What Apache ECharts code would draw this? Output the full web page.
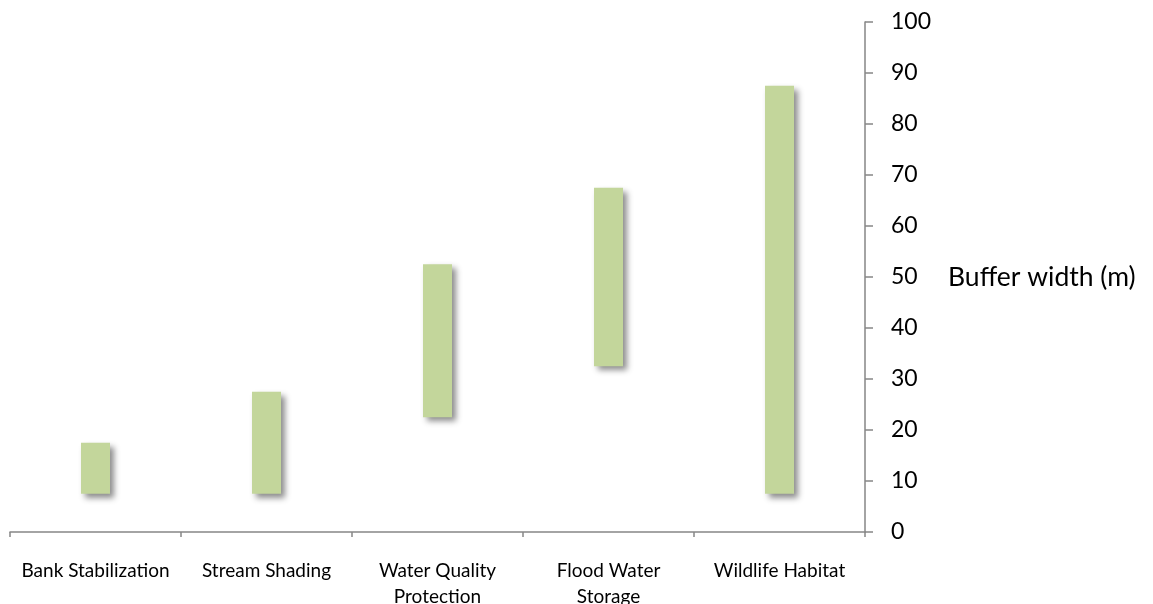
<!DOCTYPE html>
<html>
<head>
<meta charset="utf-8">
<script src="https://cdn.jsdelivr.net/npm/echarts@6/dist/echarts.min.js"></script>
<style>
  html, body { margin: 0; padding: 0; background: #ffffff; }
  #chart { width: 1153px; height: 604px; }
</style>
</head>
<body>
<div id="chart"></div>
<script>
// Riparian buffer functions and the range of buffer widths each one needs
const categories = ['Bank Stabilization', 'Stream Shading', 'Water Quality\nProtection', 'Flood Water\nStorage', 'Wildlife Habitat'];
const lowValues  = [7.5, 7.5, 22.5, 32.5, 7.5];
const highValues = [17.5, 27.5, 52.5, 67.5, 87.5];
const yTicks = { min: 0, max: 100, interval: 10 };

// floating bars: an invisible base up to the low value, then the visible span
const spanValues = highValues.map((h, i) => h - lowValues[i]);

const axisGray = '#868686';
const chart = echarts.init(document.getElementById('chart'));
chart.setOption({
  animation: false,
  backgroundColor: '#ffffff',
  grid: { left: 10, right: 288, top: 22, bottom: 72, containLabel: false, outerBoundsMode: 'none' },
  xAxis: {
    type: 'category',
    data: categories,
    boundaryGap: true,
    axisLine: { show: true, lineStyle: { color: axisGray, width: 1.5 } },
    axisTick: { show: true, length: 5, lineStyle: { color: axisGray, width: 1.5 } },
    axisLabel: {
      margin: 26,
      color: '#000000',
      fontFamily: 'Lato',
      fontSize: 19,
      lineHeight: 26,
      interval: 0
    },
    splitLine: { show: false }
  },
  yAxis: {
    type: 'value',
    position: 'right',
    min: yTicks.min,
    max: yTicks.max,
    interval: yTicks.interval,
    name: 'Buffer width (m)',
    nameLocation: 'middle',
    nameRotate: 0,
    nameGap: 83,
    nameTextStyle: {
      color: '#000000',
      fontFamily: 'Lato',
      fontSize: 26.5,
      align: 'left',
      verticalAlign: 'middle',
      padding: [6, 0, 0, 0]
    },
    axisLine: { show: true, lineStyle: { color: axisGray, width: 1.5 } },
    axisTick: { show: true, inside: false, length: 8, lineStyle: { color: axisGray, width: 1.5 } },
    axisLabel: {
      margin: 26,
      color: '#000000',
      fontFamily: 'Lato',
      fontSize: 23
    },
    splitLine: { show: false }
  },
  series: [
    {
      type: 'bar',
      stack: 'range',
      data: lowValues,
      barWidth: 29,
      itemStyle: { color: 'transparent' },
      emphasis: { disabled: true },
      silent: true
    },
    {
      type: 'bar',
      stack: 'range',
      data: spanValues,
      barWidth: 29,
      itemStyle: {
        color: '#C3D69B',
        shadowColor: 'rgba(0, 0, 0, 0.45)',
        shadowBlur: 6,
        shadowOffsetX: 4,
        shadowOffsetY: 4
      }
    }
  ]
});
</script>
</body>
</html>
